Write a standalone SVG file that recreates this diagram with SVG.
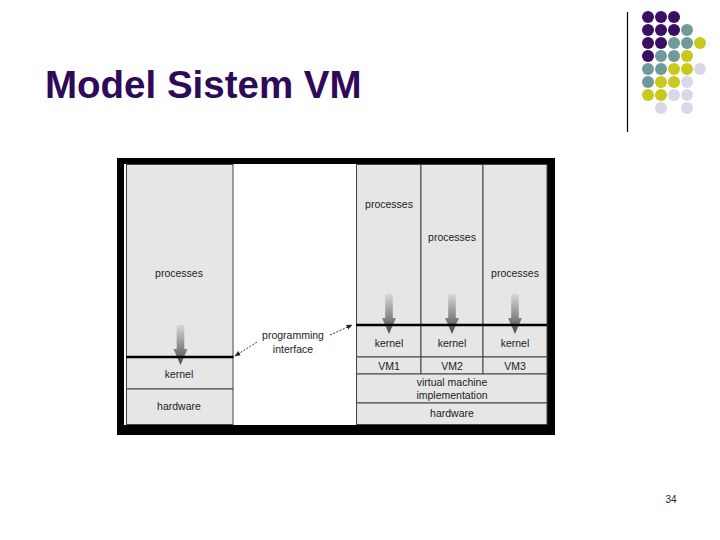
<svg xmlns="http://www.w3.org/2000/svg" xmlns:xlink="http://www.w3.org/1999/xlink" width="720" height="540" viewBox="0 0 720 540">
<style>
.lbl{font-family:"Liberation Sans",Arial,sans-serif;font-size:10.5px;fill:#222;text-anchor:middle}
.box{fill:#e6e6e6;stroke:#444;stroke-width:1}
.thick{stroke:#000;stroke-width:2.5}
.dot-p{fill:#3a0f63}
.dot-t{fill:#6f9a9a}
.dot-y{fill:#c9c81c}
.dot-l{fill:#d8d8e8}
.conn{stroke:#333;stroke-width:1;stroke-dasharray:2,1.5;fill:none}
</style>
<defs>
<linearGradient id="ag" x1="0" y1="0" x2="0" y2="1">
<stop offset="0" stop-color="#d8d8d8"/>
<stop offset="1" stop-color="#4a4a4a"/>
</linearGradient>
<path id="arr" d="M-3.8,0 H3.8 V24 H7 L0,40 L-7,24 H-3.8 Z" fill="url(#ag)"/>
<marker id="ah" viewBox="0 0 10 10" refX="9" refY="5" markerWidth="6" markerHeight="6" orient="auto-start-reverse">
<path d="M0,1 L10,5 L0,9 Z" fill="#222"/>
</marker>
</defs>
<rect width="720" height="540" fill="#fff"/>

<text x="45" y="98" font-family="Liberation Sans,Arial,sans-serif" font-size="38.5" font-weight="bold" fill="#2f0a58">Model Sistem VM</text>

<line x1="627.5" y1="12" x2="627.5" y2="132" stroke="#000" stroke-width="1.2"/>
<g id="dots">
<circle class="dot-p" cx="648" cy="17" r="6"/><circle class="dot-p" cx="661" cy="17" r="6"/><circle class="dot-p" cx="674" cy="17" r="6"/>
<circle class="dot-p" cx="648" cy="30" r="6"/><circle class="dot-p" cx="661" cy="30" r="6"/><circle class="dot-p" cx="674" cy="30" r="6"/><circle class="dot-t" cx="687" cy="30" r="6"/>
<circle class="dot-p" cx="648" cy="43" r="6"/><circle class="dot-p" cx="661" cy="43" r="6"/><circle class="dot-t" cx="674" cy="43" r="6"/><circle class="dot-t" cx="687" cy="43" r="6"/><circle class="dot-y" cx="700" cy="43" r="6"/>
<circle class="dot-p" cx="648" cy="56" r="6"/><circle class="dot-t" cx="661" cy="56" r="6"/><circle class="dot-t" cx="674" cy="56" r="6"/><circle class="dot-y" cx="687" cy="56" r="6"/>
<circle class="dot-t" cx="648" cy="69" r="6"/><circle class="dot-t" cx="661" cy="69" r="6"/><circle class="dot-y" cx="674" cy="69" r="6"/><circle class="dot-y" cx="687" cy="69" r="6"/><circle class="dot-l" cx="700" cy="69" r="6"/>
<circle class="dot-t" cx="648" cy="82" r="6"/><circle class="dot-y" cx="661" cy="82" r="6"/><circle class="dot-y" cx="674" cy="82" r="6"/><circle class="dot-l" cx="687" cy="82" r="6"/>
<circle class="dot-y" cx="648" cy="95" r="6"/><circle class="dot-y" cx="661" cy="95" r="6"/><circle class="dot-l" cx="674" cy="95" r="6"/><circle class="dot-l" cx="687" cy="95" r="6"/>
<circle class="dot-l" cx="661" cy="108" r="6"/><circle class="dot-l" cx="687" cy="108" r="6"/>
</g>

<g id="frame">
<rect x="117" y="158" width="438" height="277" fill="#000"/>
<rect x="124" y="164" width="423" height="261" fill="#fff"/>
</g>

<g id="left-machine">
<rect class="box" x="126.5" y="164.5" width="106.5" height="192.5"/>
<rect class="box" x="126.5" y="357" width="106.5" height="32"/>
<rect class="box" x="126.5" y="389" width="106.5" height="35.5"/>
<text class="lbl" x="179" y="277">processes</text>
<text class="lbl" x="179" y="378">kernel</text>
<text class="lbl" x="179" y="410">hardware</text>
<use xlink:href="#arr" x="180.5" y="325"/>
<line class="thick" x1="126" y1="357" x2="233.5" y2="357"/>
</g>

<g id="right-machine">
<rect class="box" x="356.5" y="164.5" width="64.5" height="160.5"/>
<rect class="box" x="421" y="164.5" width="62" height="160.5"/>
<rect class="box" x="483" y="164.5" width="64" height="160.5"/>
<rect class="box" x="356.5" y="325" width="64.5" height="32"/>
<rect class="box" x="421" y="325" width="62" height="32"/>
<rect class="box" x="483" y="325" width="64" height="32"/>
<rect class="box" x="356.5" y="357" width="64.5" height="17"/>
<rect class="box" x="421" y="357" width="62" height="17"/>
<rect class="box" x="483" y="357" width="64" height="17"/>
<rect class="box" x="356.5" y="374" width="190.5" height="29"/>
<rect class="box" x="356.5" y="403" width="190.5" height="21.5"/>
<text class="lbl" x="389" y="208">processes</text>
<text class="lbl" x="452" y="241">processes</text>
<text class="lbl" x="515" y="277">processes</text>
<text class="lbl" x="389" y="347">kernel</text>
<text class="lbl" x="452" y="347">kernel</text>
<text class="lbl" x="515" y="347">kernel</text>
<text class="lbl" x="389" y="370">VM1</text>
<text class="lbl" x="452" y="370">VM2</text>
<text class="lbl" x="515" y="370">VM3</text>
<text class="lbl" x="452" y="386">virtual machine</text>
<text class="lbl" x="452" y="399">implementation</text>
<text class="lbl" x="452" y="417">hardware</text>
<use xlink:href="#arr" x="389" y="294"/>
<use xlink:href="#arr" x="452" y="294"/>
<use xlink:href="#arr" x="515" y="294"/>
<line class="thick" x1="356" y1="325" x2="547" y2="325"/>
</g>

<g id="interface-label">
<text class="lbl" x="293" y="339">programming</text>
<text class="lbl" x="293" y="353">interface</text>
</g>

<g id="connectors">
<line class="conn" x1="257" y1="342" x2="235" y2="356" marker-end="url(#ah)"/>
<line class="conn" x1="330" y1="335" x2="352" y2="325" marker-end="url(#ah)"/>
</g>

<text x="671" y="503" font-family="Liberation Sans,Arial,sans-serif" font-size="10" fill="#222" text-anchor="middle">34</text>
</svg>
